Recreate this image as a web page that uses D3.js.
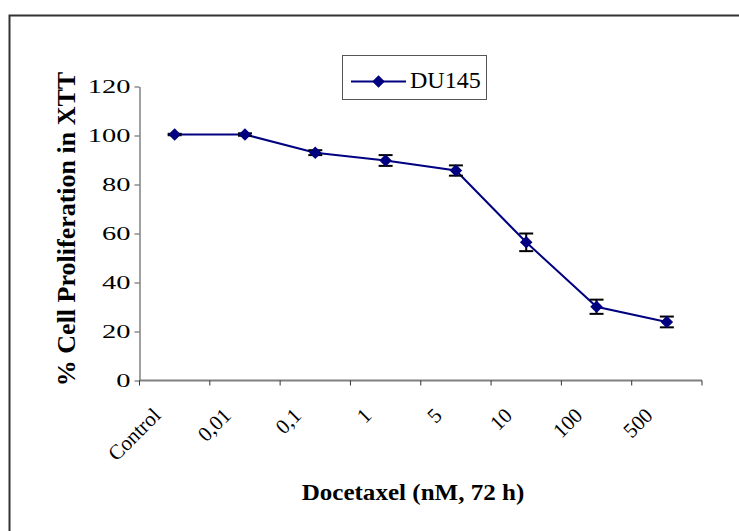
<!DOCTYPE html>
<html>
<head>
<meta charset="utf-8">
<script src="https://d3js.org/d3.v7.min.js"></script>
<style>
  body { margin: 0; background: #fff; }
  svg { display: block; }
  text { font-family: "Liberation Serif", "Times New Roman", serif; }
</style>
</head>
<body>
<script>
// chart data
var categories = ["Control", "0,01", "0,1", "1", "5", "10", "100", "500"];
var values = [100.4, 100.4, 93.0, 89.8, 85.7, 56.4, 30.1, 23.9];
var errors = [0.3, 0.5, 1.0, 2.2, 2.1, 3.6, 2.9, 2.2];
var yTicks = [0, 20, 40, 60, 80, 100, 120];
var seriesName = "DU145";

var W = 739, H = 531;
var plotLeft = 139.5, plotRight = 702, plotTop = 86.5, plotBottom = 380.5;
var navy = "#000080";

var svg = d3.select("body").append("svg")
    .attr("width", W)
    .attr("height", H);

// frame (only top and left show in the picture)
svg.append("path")
    .attr("d", "M9.5," + H + "V15.5H" + W)
    .attr("fill", "none")
    .attr("stroke", "#333")
    .attr("stroke-width", 2);

var x = d3.scaleBand().domain(categories).range([plotLeft, plotRight]);
var y = d3.scaleLinear().domain([0, 120]).range([plotBottom, plotTop]);

// y axis
var yAxis = svg.append("g")
    .attr("transform", "translate(" + plotLeft + ",0)")
    .call(d3.axisLeft(y).tickValues(yTicks).tickSize(5).tickPadding(6).tickSizeOuter(0));
yAxis.select(".domain").attr("stroke", "#808080").attr("stroke-width", 1.5);
yAxis.selectAll(".tick line").attr("stroke", "#555");
yAxis.selectAll(".tick text")
    .attr("x", 0)
    .attr("transform", "translate(-9,0) scale(1.5,1)")
    .attr("font-family", "Liberation Serif, serif")
    .attr("font-size", 19)
    .attr("fill", "#000");

// x axis line with ticks at category boundaries
var xAxisG = svg.append("g");
xAxisG.append("line")
    .attr("x1", plotLeft).attr("x2", plotRight)
    .attr("y1", plotBottom).attr("y2", plotBottom)
    .attr("stroke", "#808080").attr("stroke-width", 2);
var bounds = categories.map(function(c) { return x(c); }).concat([plotRight]);
xAxisG.selectAll("line.tk")
    .data(bounds)
    .enter().append("line")
    .attr("class", "tk")
    .attr("x1", function(d) { return d; }).attr("x2", function(d) { return d; })
    .attr("y1", plotBottom).attr("y2", plotBottom + 5)
    .attr("stroke", "#333").attr("stroke-width", 1);

// rotated category labels
xAxisG.selectAll("text.cat")
    .data(categories)
    .enter().append("text")
    .attr("class", "cat")
    .attr("transform", function(d) {
      return "translate(" + (x(d) + x.bandwidth() / 2 - 18) + "," + (plotBottom + 31) + ") rotate(-45)";
    })
    .attr("text-anchor", "end")
    .attr("dy", "0.35em")
    .attr("font-size", 21)
    .text(function(d) { return d; });

var cx = function(i) { return x(categories[i]) + x.bandwidth() / 2; };

// line
var line = d3.line()
    .x(function(d, i) { return cx(i); })
    .y(function(d) { return y(d); });
svg.append("path")
    .datum(values)
    .attr("d", line)
    .attr("fill", "none")
    .attr("stroke", navy)
    .attr("stroke-width", 2);

// error bars
var eb = svg.append("g").attr("stroke", "#000").attr("stroke-width", 2);
values.forEach(function(v, i) {
  var e = errors[i];
  eb.append("line")
      .attr("x1", cx(i)).attr("x2", cx(i))
      .attr("y1", y(v + e)).attr("y2", y(v - e));
  [v + e, v - e].forEach(function(t) {
    eb.append("line")
        .attr("x1", cx(i) - 7).attr("x2", cx(i) + 7)
        .attr("y1", y(t)).attr("y2", y(t));
  });
});

// diamond markers
var diamond = d3.symbol().type(d3.symbolDiamond2).size(100);
svg.selectAll("path.mk")
    .data(values)
    .enter().append("path")
    .attr("class", "mk")
    .attr("d", diamond)
    .attr("transform", function(d, i) { return "translate(" + cx(i) + "," + y(d) + ")"; })
    .attr("fill", navy);

// legend
var lg = svg.append("g");
lg.append("rect")
    .attr("x", 342.5).attr("y", 55.5)
    .attr("width", 144).attr("height", 44)
    .attr("fill", "#fff")
    .attr("stroke", "#555").attr("stroke-width", 1);
lg.append("line")
    .attr("x1", 351).attr("x2", 406)
    .attr("y1", 81.5).attr("y2", 81.5)
    .attr("stroke", navy).attr("stroke-width", 2);
lg.append("path")
    .attr("d", diamond)
    .attr("transform", "translate(378.5,81.5)")
    .attr("fill", navy);
lg.append("text")
    .attr("x", 410).attr("y", 88)
    .attr("font-size", 24)
    .text(seriesName);

// axis titles
svg.append("text")
    .attr("transform", "translate(75,229) rotate(-90)")
    .attr("text-anchor", "middle")
    .attr("font-size", 26)
    .attr("font-weight", "bold")
    .text("% Cell Proliferation in XTT");

svg.append("text")
    .attr("transform", "translate(413,500) scale(1.09,1)")
    .attr("text-anchor", "middle")
    .attr("font-size", 23)
    .attr("font-weight", "bold")
    .text("Docetaxel (nM, 72 h)");
</script>
</body>
</html>
